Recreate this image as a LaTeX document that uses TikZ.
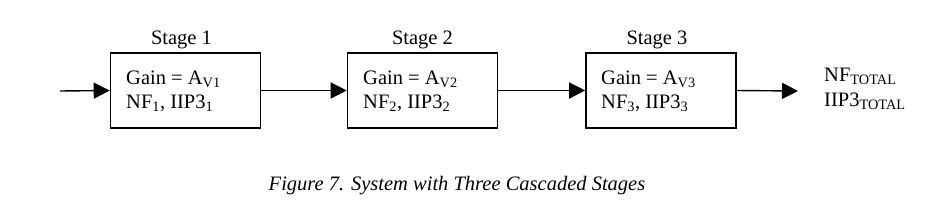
\documentclass[tikz,border=0pt]{standalone}
\usepackage{fontspec}
\setmainfont{Liberation Serif}
\usetikzlibrary{arrows.meta}
\begin{document}
\begin{tikzpicture}[x=1pt,y=-1pt,
  stagebox/.style={draw,line width=1.6pt,minimum width=150pt,minimum height=75pt,inner sep=0pt},
  lbl/.style={font=\fontsize{20.5}{24}\selectfont,inner sep=0pt},
  conn/.style={line width=1.4pt,-{Triangle[length=16pt,width=16pt]}}]
\useasboundingbox (0,0) rectangle (942,207);
\node[stagebox] (s1) at (185.5,90.5) {};
\node[stagebox] (s2) at (422.5,90.5) {};
\node[stagebox] (s3) at (661,90.5) {};
\foreach \i/\x in {1/181.5,2/422.5,3/657}{
  \node[lbl,anchor=base] (t\i) at (\x,44) {Stage \i};
}
\node[lbl,anchor=base west] (g1) at (126,84) {Gain = A\textsubscript{V1}};
\node[lbl,anchor=base west] (n1) at (126,108) {NF\textsubscript{1}, IIP3\textsubscript{1}};
\node[lbl,anchor=base west] (g2) at (363,84) {Gain = A\textsubscript{V2}};
\node[lbl,anchor=base west] (n2) at (363,108) {NF\textsubscript{2}, IIP3\textsubscript{2}};
\node[lbl,anchor=base west] (g3) at (601,84) {Gain = A\textsubscript{V3}};
\node[lbl,anchor=base west] (n3) at (601,108) {NF\textsubscript{3}, IIP3\textsubscript{3}};
\node[lbl,anchor=base west] (nft) at (824,81) {NF\textsubscript{TOTAL}};
\node[lbl,anchor=base west] (iipt) at (824,106) {IIP3\textsubscript{TOTAL}};
\coordinate (in) at (60,91);
\coordinate (out) at (798,91);
\draw[conn] (in) -- (s1.west);
\draw[conn] (s1.east) -- (s2.west);
\draw[conn] (s2.east) -- (s3.west);
\draw[conn] (s3.east) -- (out);
\node[lbl,anchor=base,font=\fontsize{20.5}{24}\selectfont\itshape] (cap) at (457,190) {Figure 7. System with Three Cascaded Stages};
\end{tikzpicture}
\end{document}
